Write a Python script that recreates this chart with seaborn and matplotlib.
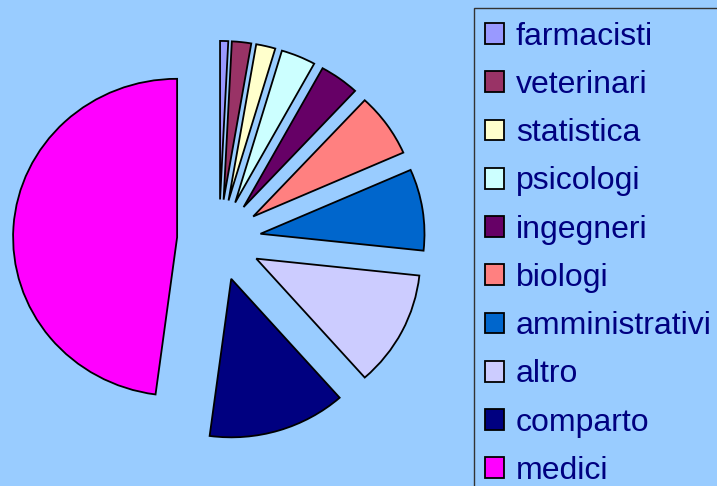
import numpy as np
import matplotlib
matplotlib.use('Agg')
import matplotlib.pyplot as plt
import matplotlib.patches as mpatches
import seaborn as sns

# slice shares (percent), clockwise from 12 o'clock
categories = ['farmacisti', 'veterinari', 'statistica', 'psicologi', 'ingegneri',
              'biologi', 'amministrativi', 'altro', 'comparto', 'medici']
shares = [0.8, 1.9, 1.9, 3.4, 3.9, 6.5, 8.3, 11.8, 13.6, 47.9]
slice_colors = ['#9999FF', '#993366', '#FFFFCC', '#CCFFFF', '#660066',
                '#FF8080', '#0066CC', '#CCCCFF', '#000080', '#FF00FF']

bg = '#99CCFF'
sns.set_style('white', {'axes.facecolor': bg, 'figure.facecolor': bg})
plt.rcParams['font.family'] = ['Liberation Sans', 'DejaVu Sans']
palette = sns.color_palette(slice_colors)

W, H = 717, 486
fig = plt.figure(figsize=(W / 100, H / 100), dpi=100)
ax = fig.add_axes([0, 0, 1, 1])
ax.set_facecolor(bg)

wedges, _ = ax.pie(shares, colors=palette, startangle=90, counterclock=False,
                   explode=[0.256] * len(shares),
                   wedgeprops=dict(edgecolor='black', linewidth=1.3))

# pie centre at (219, 240) px, slightly wider than tall
rx, ry = 164.0, 158.5
cx, cy = 219.0, 240.0
ax.set_xlim(-cx / rx, (W - cx) / rx)
ax.set_ylim(-(H - cy) / ry, cy / ry)
ax.set_aspect('auto')
ax.axis('off')

# legend frame runs off the right and bottom edges
frame = mpatches.Rectangle((474 / W, -0.1), 1.0, 1 - 8 / H + 0.1,
                           transform=fig.transFigure, facecolor='none',
                           edgecolor='#333333', linewidth=1.0)
fig.patches.append(frame)

handles = [mpatches.Patch(facecolor=c, edgecolor='black', linewidth=1.3) for c in palette]
fs = 23
leg = fig.legend(handles, categories, loc='upper left',
                 bbox_to_anchor=(475 / W, 1 - 12 / H), bbox_transform=fig.transFigure,
                 fontsize=fs, frameon=False, borderpad=0.3,
                 handlelength=0.62, handleheight=0.62, handletextpad=0.36,
                 labelspacing=0.572, borderaxespad=0)
for t in leg.get_texts():
    t.set_color('#000080')

fig.savefig('out.png', dpi=100, facecolor=bg)
